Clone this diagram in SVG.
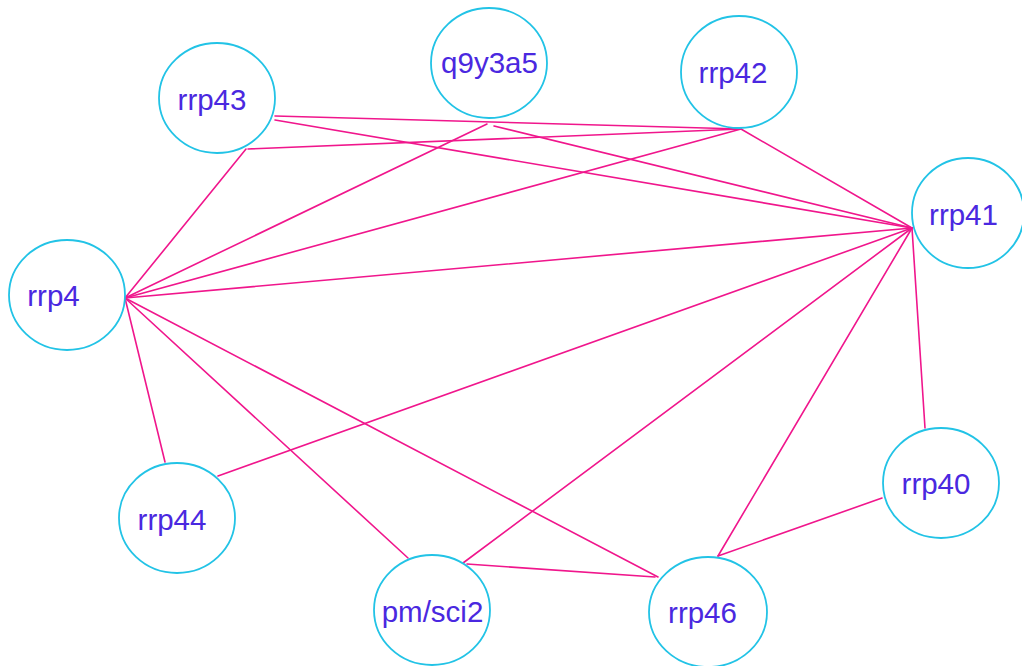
<svg xmlns="http://www.w3.org/2000/svg" width="1022" height="666" viewBox="0 0 1022 666">
  <style>
    .node ellipse { fill: #ffffff; stroke: #22c3e6; stroke-width: 1.8; }
    .node text { font-family: "Liberation Sans", Arial, sans-serif; font-size: 29.5px; fill: #4a28e0; text-anchor: middle; }
    #edges line { stroke: #f0168c; stroke-width: 1.6; stroke-linecap: round; }
  </style>
  <rect width="1022" height="666" fill="#ffffff"/>

  <!-- connectors -->
  <g id="edges">
    <line x1="275" y1="116" x2="741" y2="129"/>
    <line x1="275" y1="120" x2="912" y2="228"/>
    <line x1="248" y1="149" x2="741" y2="129"/>
    <line x1="246" y1="149" x2="125" y2="298"/>
    <line x1="487" y1="124" x2="125" y2="298"/>
    <line x1="494" y1="126" x2="912" y2="228"/>
    <line x1="741" y1="129" x2="912" y2="228"/>
    <line x1="741" y1="129" x2="125" y2="298"/>
    <line x1="912" y1="228" x2="125" y2="298"/>
    <line x1="912" y1="228" x2="218" y2="476"/>
    <line x1="912" y1="228" x2="463" y2="563"/>
    <line x1="912" y1="228" x2="718" y2="556"/>
    <line x1="912" y1="228" x2="925" y2="428"/>
    <line x1="125" y1="298" x2="165" y2="462"/>
    <line x1="125" y1="298" x2="408" y2="558"/>
    <line x1="125" y1="298" x2="658" y2="577"/>
    <line x1="467" y1="564" x2="655" y2="577"/>
    <line x1="882" y1="498" x2="718" y2="556"/>
  </g>

  <!-- nodes -->
  <g id="rrp43" class="node">
    <ellipse cx="217" cy="98" rx="58" ry="55"/>
    <text x="212" y="110">rrp43</text>
  </g>
  <g id="q9y3a5" class="node">
    <ellipse cx="489" cy="63" rx="58" ry="55"/>
    <text x="489.5" y="73">q9y3a5</text>
  </g>
  <g id="rrp42" class="node">
    <ellipse cx="739" cy="72" rx="58" ry="56"/>
    <text x="733" y="83">rrp42</text>
  </g>
  <g id="rrp41" class="node">
    <ellipse cx="968" cy="213" rx="56" ry="55"/>
    <text x="963.5" y="225">rrp41</text>
  </g>
  <g id="rrp4" class="node">
    <ellipse cx="67" cy="295" rx="58" ry="55"/>
    <text x="53.5" y="306">rrp4</text>
  </g>
  <g id="rrp44" class="node">
    <ellipse cx="177" cy="518" rx="58" ry="55"/>
    <text x="172" y="530">rrp44</text>
  </g>
  <g id="pm_sci2" class="node">
    <ellipse cx="432" cy="610" rx="58" ry="55"/>
    <text x="432.5" y="622">pm/sci2</text>
  </g>
  <g id="rrp46" class="node">
    <ellipse cx="708" cy="612" rx="59" ry="55"/>
    <text x="702.5" y="623">rrp46</text>
  </g>
  <g id="rrp40" class="node">
    <ellipse cx="941" cy="483" rx="58" ry="55"/>
    <text x="936" y="494">rrp40</text>
  </g>
</svg>
